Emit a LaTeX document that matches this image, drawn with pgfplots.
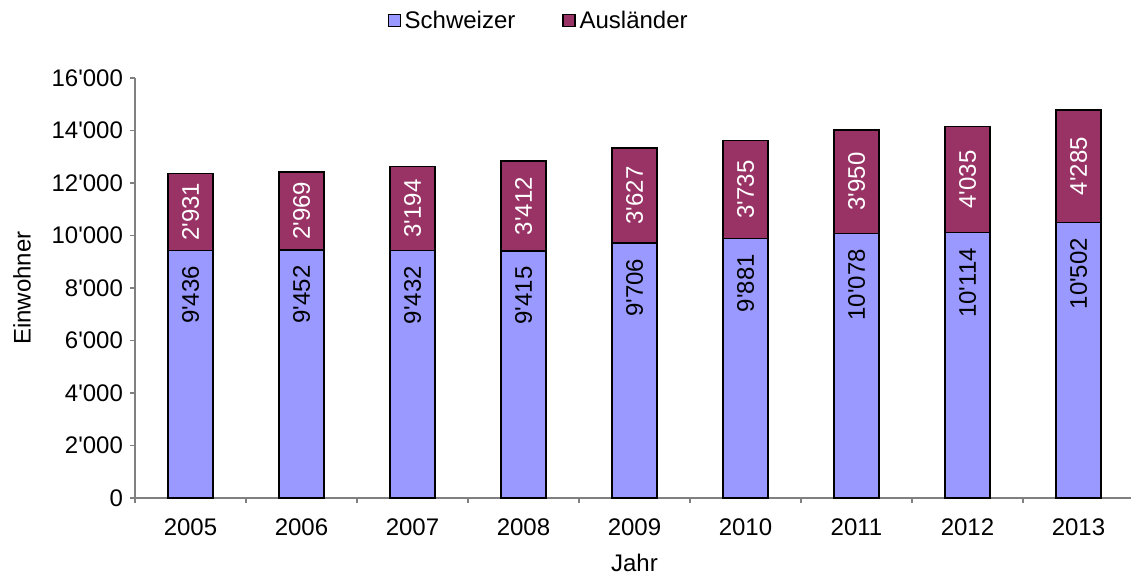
\documentclass[border=0pt]{standalone}
\usepackage{fontspec}
\setmainfont{Liberation Sans}
\usepackage{pgfplots}
\pgfplotsset{compat=1.18}
\usepackage{pgfplotstable}
\definecolor{schw}{HTML}{9999FF}
\definecolor{ausl}{HTML}{993366}
\pgfplotstableread{
x year s a
0 2005 9436 2931
1 2006 9452 2969
2 2007 9432 3194
3 2008 9415 3412
4 2009 9706 3627
5 2010 9881 3735
6 2011 10078 3950
7 2012 10114 4035
8 2013 10502 4285
}\data
\begin{document}
\begin{tikzpicture}[font=\fontsize{12}{14.4}\selectfont]
\begin{axis}[
  scale only axis, width=499.5pt, height=210pt,
  xmin=-0.5, xmax=8.5, ymin=0, ymax=16000,
  axis x line*=bottom, axis y line*=left,
  axis line style={draw=gray, line width=0.6pt, -},
  every tick/.style={draw=gray, line width=0.6pt},
  tick align=outside, major tick length=2.5pt,
  xtick={-0.5,0.5,...,8.5},
  x tick label as interval,
  xticklabels={2005,2006,2007,2008,2009,2010,2011,2012,2013},
  xticklabel style={yshift=-4.5pt},
  ytick={0,2000,...,16000},
  scaled y ticks=false,
  /pgf/number format/1000 sep={\textquotesingle},
  /pgf/number format/assume math mode=true,
  xlabel={Jahr}, ylabel={Einwohner},
  every axis x label/.style={at={(axis description cs:0.5,-0.155)}, anchor=center},
  every axis y label/.style={at={(axis description cs:-0.113,0.5)}, anchor=center, rotate=90},
  legend columns=2,
  legend style={at={(axis description cs:0.405,1.136)}, anchor=center, draw=none,
    /tikz/every even column/.append style={column sep=21.5pt}},
  legend cell align=left,
  legend image code/.code={\draw[#1, line width=0.6pt] (0pt,-3pt) rectangle (6pt,3pt);},
  reverse legend,
]
\coordinate (O) at (rel axis cs:0,0);
\addplot[ybar, bar width=22.5pt, bar shift=0pt, fill=ausl, draw=black, line width=0.8pt]
  table[x=x, y expr=\thisrow{s}+\thisrow{a}] {\data};
\addlegendentry{Ausländer}
\addplot[ybar, bar width=22.5pt, bar shift=0pt, fill=schw, draw=black, line width=0.8pt]
  table[x=x, y=s] {\data};
\addlegendentry{Schweizer}
\addplot[forget plot, only marks, mark=none, nodes near coords, point meta=explicit,
  every node near coord/.append style={rotate=90, anchor=east, outer sep=4.5pt, text=black}]
  table[x=x, y=s, meta=s] {\data};
\addplot[forget plot, only marks, mark=none, nodes near coords, point meta=explicit,
  every node near coord/.append style={rotate=90, anchor=center, text=white}]
  table[x=x, y expr=\thisrow{s}+\thisrow{a}/2, meta=a] {\data};
\end{axis}
\pgfresetboundingbox
\path[use as bounding box] ([shift={(-67.5pt,-38.5pt)}]O) rectangle ([shift={(498pt,249pt)}]O);
\end{tikzpicture}
\end{document}
